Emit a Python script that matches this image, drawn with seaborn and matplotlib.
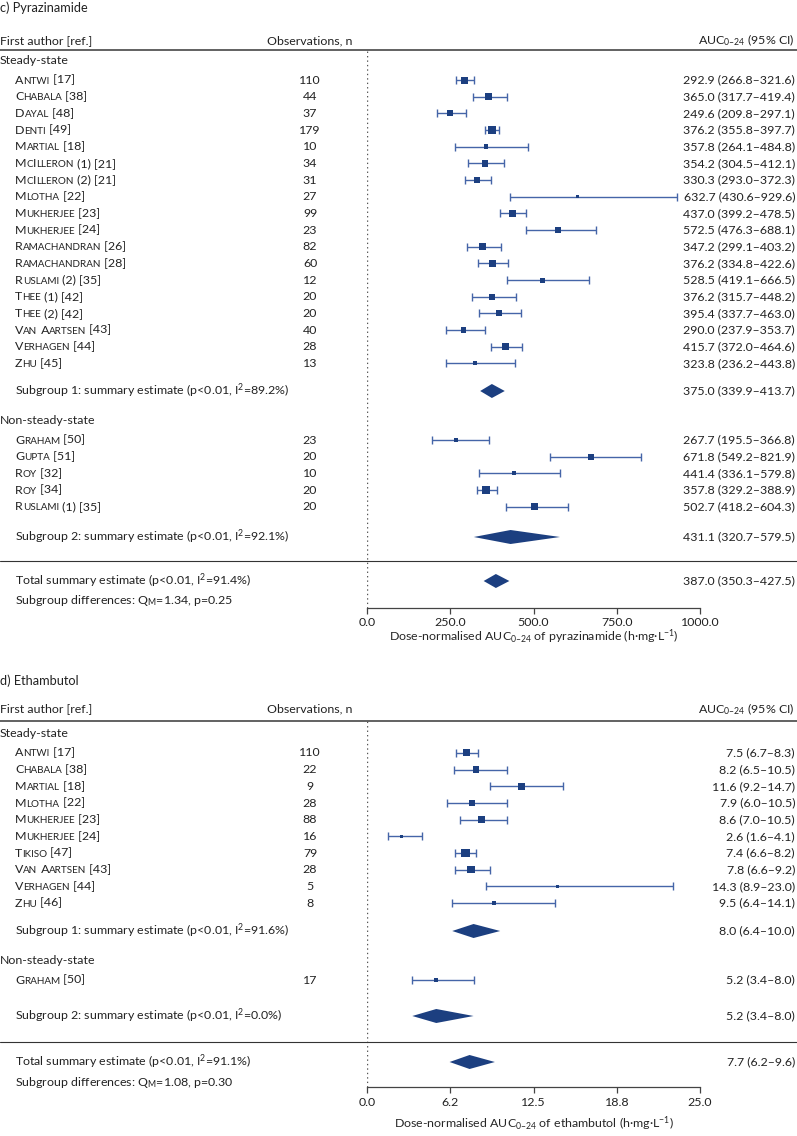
import numpy as np
import pandas as pd
import seaborn as sns
import matplotlib.pyplot as plt
from matplotlib.transforms import blended_transform_factory
from matplotlib.offsetbox import TextArea, HPacker, AnnotationBbox
from matplotlib.ticker import FormatStrFormatter

# Pyrazinamide
pza_names = ["Antwi [17]", "Chabala [38]", "Dayal [48]", "Denti [49]", "Martial [18]",
             "McIlleron (1) [21]", "McIlleron (2) [21]", "Mlotha [22]", "Mukherjee [23]",
             "Mukherjee [24]", "Ramachandran [26]", "Ramachandran [28]", "Ruslami (2) [35]",
             "Thee (1) [42]", "Thee (2) [42]", "Van Aartsen [43]", "Verhagen [44]", "Zhu [45]",
             "Graham [50]", "Gupta [51]", "Roy [32]", "Roy [34]", "Ruslami (1) [35]"]
pza_group = ["Steady-state"] * 18 + ["Non-steady-state"] * 5
pza_n = [110, 44, 37, 179, 10, 34, 31, 27, 99, 23, 82, 60, 12, 20, 20, 40, 28, 13,
         23, 20, 10, 20, 20]
pza_est = [292.9, 365.0, 249.6, 376.2, 357.8, 354.2, 330.3, 632.7, 437.0, 572.5, 347.2,
           376.2, 528.5, 376.2, 395.4, 290.0, 415.7, 323.8,
           267.7, 671.8, 441.4, 357.8, 502.7]
pza_lo = [266.8, 317.7, 209.8, 355.8, 264.1, 304.5, 293.0, 430.6, 399.2, 476.3, 299.1,
          334.8, 419.1, 315.7, 337.7, 237.9, 372.0, 236.2,
          195.5, 549.2, 336.1, 329.2, 418.2]
pza_hi = [321.6, 419.4, 297.1, 397.7, 484.8, 412.1, 372.3, 929.6, 478.5, 688.1, 403.2,
          422.6, 666.5, 448.2, 463.0, 353.7, 464.6, 443.8,
          366.8, 821.9, 579.8, 388.9, 604.3]
pza_weight = [7, 7, 6, 8, 4.5, 6.5, 6.5, 3.5, 7, 6, 6.5, 6.5, 5, 6, 6, 5.5, 6.5, 4,
              3.5, 6, 4, 7.5, 6.5]
pza_summary = [("Subgroup 1: summary estimate (p<0.01, I$^{2}$=89.2%)", 375.0, 339.9, 413.7),
               ("Subgroup 2: summary estimate (p<0.01, I$^{2}$=92.1%)", 431.1, 320.7, 579.5),
               ("Total summary estimate (p<0.01, I$^{2}$=91.4%)", 387.0, 350.3, 427.5)]
pza_diff = "Subgroup differences: Q$_{M}$=1.34, p=0.25"

# Ethambutol
emb_names = ["Antwi [17]", "Chabala [38]", "Martial [18]", "Mlotha [22]", "Mukherjee [23]",
             "Mukherjee [24]", "Tikiso [47]", "Van Aartsen [43]", "Verhagen [44]", "Zhu [46]",
             "Graham [50]"]
emb_group = ["Steady-state"] * 10 + ["Non-steady-state"]
emb_n = [110, 22, 9, 28, 88, 16, 79, 28, 5, 8, 17]
emb_est = [7.5, 8.2, 11.6, 7.9, 8.6, 2.6, 7.4, 7.8, 14.3, 9.5, 5.2]
emb_lo = [6.7, 6.5, 9.2, 6.0, 7.0, 1.6, 6.6, 6.6, 8.9, 6.4, 3.4]
emb_hi = [8.3, 10.5, 14.7, 10.5, 10.5, 4.1, 8.2, 9.2, 23.0, 14.1, 8.0]
emb_weight = [7, 6.5, 6.5, 6, 7, 3, 8.5, 7.5, 2.5, 4, 4]
emb_summary = [("Subgroup 1: summary estimate (p<0.01, I$^{2}$=91.6%)", 8.0, 6.4, 10.0),
               ("Subgroup 2: summary estimate (p<0.01, I$^{2}$=0.0%)", 5.2, 3.4, 8.0),
               ("Total summary estimate (p<0.01, I$^{2}$=91.1%)", 7.7, 6.2, 9.6)]
emb_diff = "Subgroup differences: Q$_{M}$=1.08, p=0.30"

group_order = ["Steady-state", "Non-steady-state"]

W, H = 797, 1136
NAVY = "#1c3f80"
LINE = "#4565a8"
TXT = "#222222"
FS = 8.9
STEP = 16.67

sns.set_theme(style="white")
plt.rcParams["font.family"] = ["Lato", "DejaVu Sans"]
plt.rcParams["mathtext.fontset"] = "custom"
plt.rcParams["mathtext.rm"] = "Lato"
plt.rcParams["mathtext.it"] = "Lato:italic"
plt.rcParams["mathtext.default"] = "regular"
plt.rcParams["text.color"] = TXT

fig = plt.figure(figsize=(W / 100, H / 100), dpi=100)


def small_caps(ax, x, y, s, trans):
    # lower case letters drawn as smaller capitals
    runs = []
    for ch in s:
        sm = ch.islower()
        c = ch.upper() if sm else ch
        if runs and runs[-1][1] == sm:
            runs[-1][0] += c
        else:
            runs.append([c, sm])
    boxes = [TextArea(t, textprops=dict(fontsize=FS * 0.8 if sm else FS, color=TXT))
             for t, sm in runs]
    pack = HPacker(children=boxes, align="baseline", pad=0, sep=0)
    ab = AnnotationBbox(pack, (x, y), xycoords=trans, box_alignment=(0, 0.5),
                        frameon=False, pad=0, annotation_clip=False)
    ax.add_artist(ab)


def draw_panel(lay, names, groups, n, est, lo, hi, weight, summary, diff, xmax, title, xlabel):
    ax = fig.add_axes([367 / W, 1 - lay["axis"] / H, 333 / W, (lay["axis"] - lay["hline"]) / H])
    ax.set_xlim(0, xmax)
    ax.set_ylim(lay["axis"], lay["hline"])
    tr = blended_transform_factory(fig.transFigure, ax.transData)

    df = pd.DataFrame(dict(name=names, group=groups, n=n, est=est, lo=lo, hi=hi, w=weight))
    ys = []
    for gi, g in enumerate(group_order):
        k = (df["group"] == g).sum()
        ys += list(lay["study0"][gi] + STEP * np.arange(k))
    df["y"] = ys
    df["s"] = (df["w"] * 0.72) ** 2

    ax.axvline(0, ls=(0, (1, 2.2)), color="#555555", lw=1.0, zorder=0)
    ax.errorbar(df["est"], df["y"], xerr=[df["est"] - df["lo"], df["hi"] - df["est"]],
                fmt="none", ecolor=LINE, elinewidth=1.0, capsize=2.9, capthick=1.0, zorder=2)
    sns.scatterplot(data=df, x="est", y="y", size="s", sizes=(df["s"].min(), df["s"].max()),
                    marker="s", color=NAVY, linewidth=0, legend=False, ax=ax, zorder=3)

    # header
    ax.text(0, lay["title"], title, transform=tr, ha="left", va="center", fontsize=FS + 0.3)
    ax.text(0, lay["head"], "First author [ref.]", transform=tr, ha="left", va="center", fontsize=FS)
    ax.text(310 / W, lay["head"], "Observations, n", transform=tr, ha="center", va="center", fontsize=FS)
    ax.text(795 / W, lay["head"], "AUC$_{0–24}$ (95% CI)", transform=tr, ha="right", va="center", fontsize=FS)
    ax.plot([0, 1], [lay["hline"]] * 2, transform=tr, color="#555555", lw=1.3, clip_on=False)
    ax.plot([0, 1], [lay["sep"]] * 2, transform=tr, color="#333333", lw=0.8, clip_on=False)

    for gi, g in enumerate(group_order):
        ax.text(0, lay["grp"][gi], g, transform=tr, ha="left", va="center", fontsize=FS)

    for _, r in df.iterrows():
        small_caps(ax, 15 / W, r["y"], r["name"], tr)
        ax.text(310 / W, r["y"], str(r["n"]), transform=tr, ha="center", va="center", fontsize=FS)
        ax.text(795 / W, r["y"], f"{r['est']:.1f} ({r['lo']:.1f}–{r['hi']:.1f})",
                transform=tr, ha="right", va="center", fontsize=FS)

    sy = lay["sub"] + [lay["total"]]
    for (lab, e, l, h), y in zip(summary, sy):
        ax.fill([l, e, h, e], [y, y - 7, y, y + 7], color=NAVY, lw=0, zorder=3)
        ax.text(15 / W, y, lab, transform=tr, ha="left", va="center", fontsize=FS)
        ax.text(795 / W, y, f"{e:.1f} ({l:.1f}–{h:.1f})", transform=tr, ha="right",
                va="center", fontsize=FS)
    ax.text(15 / W, lay["diff"], diff, transform=tr, ha="left", va="center", fontsize=FS)

    ax.set_xticks(np.linspace(0, xmax, 5))
    ax.xaxis.set_major_formatter(FormatStrFormatter("%.1f"))
    ax.set_yticks([])
    ax.set_ylabel("")
    ax.set_xlabel(xlabel, fontsize=FS)
    ax.xaxis.set_label_coords(0.5, lay["xlab"], transform=blended_transform_factory(ax.transAxes, ax.transData))
    ax.xaxis.label.set_va("center")
    ax.tick_params(axis="x", bottom=True, direction="out", length=4, width=0.9,
                   color="#444444", labelsize=FS, pad=3, labelcolor=TXT)
    sns.despine(ax=ax, left=True)
    ax.spines["bottom"].set_color("#444444")
    ax.spines["bottom"].set_linewidth(0.9)
    ax.patch.set_alpha(0)
    return ax


lay_c = dict(title=7.5, head=40.5, hline=50, grp=[61, 421], study0=[80, 440], sub=[391, 537],
             sep=561, total=581, diff=600, axis=607.5, xlab=637)
lay_d = dict(title=680.5, head=709, hline=721, grp=[734, 961], study0=[753, 980], sub=[931, 1016],
             sep=1042, total=1062, diff=1082, axis=1087, xlab=1124)

draw_panel(lay_c, pza_names, pza_group, pza_n, pza_est, pza_lo, pza_hi, pza_weight,
           pza_summary, pza_diff, 1000, "c) Pyrazinamide",
           "Dose-normalised AUC$_{0–24}$ of pyrazinamide (h·mg·L$^{-1}$)")
draw_panel(lay_d, emb_names, emb_group, emb_n, emb_est, emb_lo, emb_hi, emb_weight,
           emb_summary, emb_diff, 25, "d) Ethambutol",
           "Dose-normalised AUC$_{0–24}$ of ethambutol (h·mg·L$^{-1}$)")

fig.savefig("out.png", dpi=100)
